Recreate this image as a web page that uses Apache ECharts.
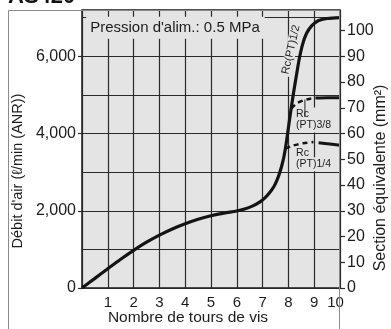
<!DOCTYPE html>
<html><head><meta charset="utf-8">
<script src="https://cdn.jsdelivr.net/npm/echarts@6/dist/echarts.min.js"></script>
<style>html,body{margin:0;padding:0;background:#fff}#c{width:391px;height:329px}</style>
</head><body><div id="c"></div>
<script>
// Main curve Rc(PT)1/2 : turns of screw vs air flow (l/min ANR)
const turns12 = [0, 0.5, 1, 1.5, 2, 2.5, 3, 3.5, 4, 4.5, 5, 5.5, 6, 6.3, 6.6, 6.9, 7.1, 7.3, 7.45, 7.55, 7.65, 7.74, 7.82, 7.9, 7.97, 8.05, 8.13, 8.22, 8.32, 8.42, 8.55, 8.7, 8.9, 9.15, 9.5, 10];
const flow12  = [0, 250, 500, 745, 975, 1185, 1370, 1530, 1665, 1780, 1870, 1940, 1995, 2045, 2120, 2230, 2340, 2490, 2640, 2780, 2960, 3160, 3380, 3680, 4000, 4390, 4750, 5140, 5540, 5930, 6310, 6590, 6790, 6920, 6980, 7005];
// Rc(PT)3/8 branch
const turns38Dash = [8.11, 8.32, 8.58, 8.84, 9.05];
const flow38Dash  = [4650, 4780, 4860, 4900, 4920];
const turns38 = [9.05, 9.5, 10];
const flow38  = [4920, 4930, 4930];
// Rc(PT)1/4 branch
const turns14Dash = [7.88, 8.19, 8.58, 8.97];
const flow14Dash  = [3610, 3690, 3750, 3780];
const turns14 = [9.17, 9.6, 10];
const flow14  = [3760, 3730, 3700];
// Axis ticks
const xTicks = [1, 2, 3, 4, 5, 6, 7, 8, 9, 10];
const flowTicks = [0, 2000, 4000, 6000];
const sectionTicks = [0, 10, 20, 30, 40, 50, 60, 70, 80, 90, 100];

const FONT = '"Liberation Sans", Arial, Helvetica, sans-serif';
const TXT = '#1c1c1c';
const BG = '#e4e4e4';
const GRID = '#2a2a2a';
const pair = (xs, ys) => xs.map((x, i) => [x, ys[i]]);
const fmt = v => String(v).replace(/\B(?=(\d{3})+(?!\d))/g, ',');

const chart = echarts.init(document.getElementById('c'), null, {renderer: 'canvas'});
const lineBase = {type: 'line', symbol: 'none', smooth: 0.3, xAxisIndex: 0, yAxisIndex: 0, silent: true, z: 5};

chart.setOption({
  animation: false,
  backgroundColor: '#ffffff',
  grid: {left: 82, right: 51, top: 10, bottom: 41, show: true, backgroundColor: BG, borderColor: '#1a1a1a', borderWidth: 1.5},
  xAxis: {
    type: 'value', min: 0, max: 10, interval: 1,
    axisLine: {show: false}, axisTick: {show: false},
    splitLine: {show: true, lineStyle: {color: GRID, width: 1.2}},
    axisLabel: {margin: 7, color: TXT, fontSize: 15, fontFamily: FONT,
      formatter: v => v === 10 ? '{e|10}' : (xTicks.indexOf(v) >= 0 ? String(v) : ''),
      rich: {e: {fontSize: 15, fontFamily: FONT, color: TXT, padding: [0, 9, 0, 0]}}}
  },
  yAxis: [
    { // left labels + ticks
      type: 'value', position: 'left', min: 0, max: 7200, interval: 2000,
      axisLine: {show: false},
      axisTick: {show: true, length: 4, lineStyle: {color: GRID, width: 1.2}},
      splitLine: {show: false},
      axisLabel: {margin: 6, color: TXT, fontSize: 16, fontFamily: FONT, showMaxLabel: false,
        formatter: v => flowTicks.indexOf(v) >= 0 ? fmt(v) : ''}
    },
    { // right axis mm2
      type: 'value', position: 'right', min: 0, max: 108, interval: 10,
      axisLine: {show: false},
      axisTick: {show: true, length: 5, lineStyle: {color: GRID, width: 1.2}, customValues: sectionTicks},
      splitLine: {show: false},
      axisLabel: {margin: 7, color: TXT, fontSize: 16, fontFamily: FONT, customValues: sectionTicks,
        formatter: v => sectionTicks.indexOf(v) >= 0 ? String(v) : ''}
    },
    { // grid lines every 1000
      type: 'value', position: 'left', min: 0, max: 7200, interval: 1000,
      axisLine: {show: false}, axisTick: {show: false}, axisLabel: {show: false},
      splitLine: {show: true, lineStyle: {color: GRID, width: 1.2}}
    }
  ],
  series: [
    Object.assign({}, lineBase, {name: 'Rc(PT)1/2', data: pair(turns12, flow12), lineStyle: {color: '#141414', width: 3.2}}),
    Object.assign({}, lineBase, {name: 'Rc(PT)3/8 dash', data: pair(turns38Dash, flow38Dash), lineStyle: {color: '#141414', width: 2.5, type: [5, 4]}}),
    Object.assign({}, lineBase, {name: 'Rc(PT)3/8', data: pair(turns38, flow38), lineStyle: {color: '#141414', width: 3}}),
    Object.assign({}, lineBase, {name: 'Rc(PT)1/4 dash', data: pair(turns14Dash, flow14Dash), lineStyle: {color: '#141414', width: 2.5, type: [5, 4]}}),
    Object.assign({}, lineBase, {name: 'Rc(PT)1/4', data: pair(turns14, flow14), lineStyle: {color: '#141414', width: 3}})
  ]
});

const P = (x, y) => chart.convertToPixel({xAxisIndex: 0, yAxisIndex: 0}, [x, y]);
const note = (text, x, y, opts) => {
  const p = P(x, y);
  return Object.assign({
    type: 'text', x: p[0], y: p[1], z: 1,
    style: Object.assign({text: text, fill: TXT, font: '11px ' + FONT, align: 'left', verticalAlign: 'middle',
      backgroundColor: BG, padding: [1, 2, 1, 0]}, opts && opts.style || {})
  }, opts && opts.el || {});
};
const lead = P(8.64, 4880), lead2 = P(8.64, 4430);

chart.setOption({
  graphic: [
    {type: 'rect', z: 100, silent: true, shape: {x: 8.5, y: 10.5, width: 331, height: 400},
      style: {fill: 'none', stroke: '#8a8a8a', lineWidth: 1}},
    {type: 'text', z: 100, x: 8, y: -3, style: {text: 'AS420', font: 'bold 22px ' + FONT, fill: '#111', align: 'left', verticalAlign: 'middle'}},
    note('Pression d\'alim.: 0.5 MPa', 0.16, 6740, {style: {font: '15px ' + FONT, padding: [3, 5, 4, 4]}}),
    note('Rc(PT)1/2', 8.1, 6174, {el: {rotation: 77 * Math.PI / 180}, style: {font: '11px ' + FONT, align: 'center', padding: [0, 2, 0, 2]}}),
    note('Rc', 8.26, 4495, {style: {font: '10.5px ' + FONT, padding: [2, 22, 1, 1]}}),
    note('(PT)3/8', 8.26, 4210, {style: {font: '10.5px ' + FONT, padding: [1, 3, 2, 1]}}),
    note('Rc', 8.26, 3487, {style: {font: '10.5px ' + FONT, padding: [1, 2, 1, 1]}}),
    note('(PT)1/4', 8.26, 3203, {style: {font: '10.5px ' + FONT, padding: [1, 3, 2, 1]}}),
    {type: 'line', z: 3, shape: {x1: lead[0], y1: lead[1], x2: lead2[0], y2: lead2[1]}, style: {stroke: '#222', lineWidth: 1}},
    {type: 'text', z: 100, x: 18, y: 171, rotation: Math.PI / 2,
      style: {text: 'Débit d\'air (ℓ/min (ANR))', font: '14.5px ' + FONT, fill: TXT, align: 'center', verticalAlign: 'middle'}},
    {type: 'text', z: 100, x: 381, y: 178, rotation: Math.PI / 2,
      style: {text: 'Section équivalente (mm²)', font: '16px ' + FONT, fill: TXT, align: 'center', verticalAlign: 'middle'}},
    {type: 'text', z: 100, x: 188, y: 318,
      style: {text: 'Nombre de tours de vis', font: '15.5px ' + FONT, fill: TXT, align: 'center', verticalAlign: 'middle'}}
  ]
});
</script></body></html>
